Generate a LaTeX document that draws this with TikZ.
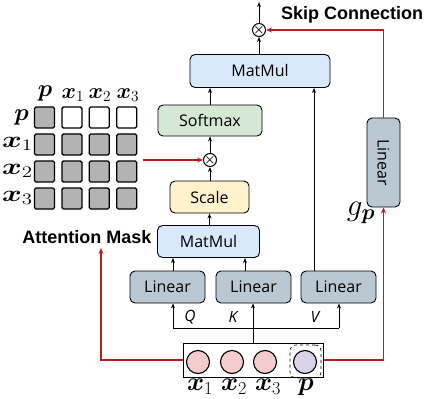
\RequirePackage{fix-cm}
\documentclass[tikz,border=0pt]{standalone}
\usepackage{amsmath,bm}
\usepackage{fontspec}
\newfontfamily\boxfont{Open Sans}
\newfontfamily\lblfont{Liberation Sans}
\usetikzlibrary{arrows.meta,calc}
\definecolor{mmblue}{HTML}{DAE8FC}
\definecolor{smgreen}{HTML}{D5E8D4}
\definecolor{scyellow}{HTML}{FFF2CC}
\definecolor{lingray}{HTML}{BAC8D3}
\definecolor{redline}{HTML}{B81C24}
\definecolor{cellgray}{HTML}{B3B3B3}
\definecolor{pinkc}{HTML}{F4CCCC}
\definecolor{purpc}{HTML}{D9D2E9}
\tikzset{
  opbox/.style={draw, line width=0.9pt, rounded corners=5pt, inner sep=0pt, font=\boxfont\fontsize{16}{18}\selectfont},
  arr/.style={-{Stealth[length=5pt,width=4pt]}, line width=1pt},
  redarr/.style={-{Stealth[length=6pt,width=5pt]}, line width=1.4pt, draw=redline},
  otim/.style={draw, circle, line width=1pt, minimum size=13pt, inner sep=0pt},
  cell/.style={draw, line width=1.3pt, rounded corners=1.5pt, minimum width=20pt, minimum height=21pt, inner sep=0pt},
  tok/.style={draw, circle, line width=1.1pt, minimum size=23pt, inner sep=0pt},
  mlbl/.style={font=\fontsize{22}{24}\selectfont, inner sep=0pt},
  plbl/.style={font=\fontsize{24}{26}\selectfont, inner sep=0pt},
  rlbl/.style={font=\fontsize{23}{25}\selectfont, inner sep=0pt, xscale=1.3, anchor=east},
  inlbl/.style={font=\fontsize{26}{28}\selectfont, inner sep=0pt},
  blbl/.style={font=\lblfont\bfseries\fontsize{18}{20}\selectfont, inner sep=0pt},
  qkv/.style={font=\boxfont\itshape\fontsize{15.5}{17}\selectfont, inner sep=0pt}
}
\begin{document}
\begin{tikzpicture}[x=1pt,y=-1pt]
\useasboundingbox (0,0) rectangle (430,398);
% boxes
\node[opbox, fill=mmblue, minimum width=140pt, minimum height=33pt] (mmTop) at (260,71) {MatMul};
\node[opbox, fill=smgreen, minimum width=104pt, minimum height=31pt] (soft) at (210,120.5) {Softmax};
\node[otim] (otMid) at (210,160) {};
\node[font=\fontsize{13}{14}\selectfont] at (otMid) {$\bm{\times}$};
\node[opbox, fill=scyellow, minimum width=79pt, minimum height=32pt] (scale) at (209.5,197) {Scale};
\node[opbox, fill=mmblue, minimum width=102pt, minimum height=32pt] (mmLow) at (208.5,241.5) {MatMul};
\node[opbox, fill=lingray, minimum width=75pt, minimum height=32pt] (linQ) at (167.5,287) {Linear};
\node[opbox, fill=lingray, minimum width=75pt, minimum height=32pt] (linK) at (253.5,287) {Linear};
\node[opbox, fill=lingray, minimum width=75pt, minimum height=32pt] (linV) at (338.5,287) {Linear};
\node[opbox, fill=lingray, minimum width=33pt, minimum height=89pt] (linR) at (383.5,162.5) {};
\node[font=\boxfont\fontsize{16}{18}\selectfont, rotate=-90] at (linR) {Linear};
\node[otim] (otTop) at (259,30) {};
\node[font=\fontsize{13}{14}\selectfont] at (otTop) {$\bm{\times}$};
\coordinate (topEnd) at (259,2);
\node[blbl, anchor=west] (skip) at (281,15) {Skip Connection};
\node[font=\fontsize{31}{33}\selectfont, inner sep=0pt] (gp) at (361,213) {$g_{\bm{p}}$};
% input box
\node[draw, line width=1pt, minimum width=140pt, minimum height=34pt, inner sep=0pt] (inp) at (253,360) {};
\node[tok, fill=pinkc] (t1) at (198,362) {};
\node[tok, fill=pinkc] (t2) at (232,362) {};
\node[tok, fill=pinkc] (t3) at (265,362) {};
\node[tok, fill=purpc] (tp) at (305,362) {};
\node[draw, dashed, line width=0.6pt, rounded corners=6pt, minimum width=31pt, minimum height=33pt, inner sep=0pt] (tpbox) at (305.5,361.5) {};
\node[inlbl] (l1) at (200,387) {$\bm{x}_1$};
\node[inlbl] (l2) at (234,387) {$\bm{x}_2$};
\node[inlbl] (l3) at (268,387) {$\bm{x}_3$};
\node[inlbl] (l4) at (306,387) {$\bm{p}$};
% Q K V labels
\node[qkv] (Q) at (190,317) {Q};
\node[qkv] (K) at (233,317) {K};
\node[qkv] (V) at (315,317) {V};
% mask grid
\foreach \j in {0,...,3}{
  \foreach \i in {0,...,3}{
    \pgfmathsetmacro{\cx}{44.5+27.4*\i}
    \pgfmathsetmacro{\cy}{117.5+27*\j}
    \ifnum\j=0 \ifnum\i>0
      \node[cell, fill=white] (c\j\i) at (\cx,\cy) {};
    \else
      \node[cell, fill=cellgray] (c\j\i) at (\cx,\cy) {};
    \fi\else
      \node[cell, fill=cellgray] (c\j\i) at (\cx,\cy) {};
    \fi
  }
}
\node[plbl] (hp) at (45,94) {$\bm{p}$};
\node[mlbl] (h1) at (73,95) {$\bm{x}_1$};
\node[mlbl] (h2) at (100,95) {$\bm{x}_2$};
\node[mlbl] (h3) at (128,95) {$\bm{x}_3$};
\node[plbl, anchor=east] (rp) at (29,118) {$\bm{p}$};
\node[rlbl] (r1) at (33,144) {$\bm{x}_1$};
\node[rlbl] (r2) at (33,171) {$\bm{x}_2$};
\node[rlbl] (r3) at (33,198) {$\bm{x}_3$};
\node[blbl] (am) at (87,237) {Attention Mask};
\coordinate (maskOut) at (143,160);
\coordinate (amIn) at (101,248);
% black arrows
\draw[arr] (otTop.north) -- (topEnd);
\draw[arr] (mmTop.north -| otTop) -- (otTop.south);
\draw[arr] (soft.north) -- (soft.north |- mmTop.south);
\draw[arr] (linV.north -| 314,0) -- (314,0 |- mmTop.south);
\draw[arr] (scale.north -| otMid) -- (otMid.south);
\draw[arr] (otMid.north) -- (soft.south -| otMid);
\draw[arr] (mmLow.north -| scale) -- (scale.south);
\draw[arr] ([xshift=5.5pt]linQ.north) -- ([xshift=5.5pt]linQ.north |- mmLow.south);
\draw[arr] ([xshift=-8.5pt]linK.north) -- ([xshift=-8.5pt]linK.north |- mmLow.south);
\draw[line width=1pt] (173,328) -- (339,328);
\draw[arr] (inp.north) -- (linK.south -| inp.north);
\draw[arr] (173,328) -- (linQ.south -| 173,0);
\draw[arr] (339,328) -- (linV.south -| 339,0);
% red connectors
\draw[redarr] (maskOut) -- (otMid.west);
\draw[redarr] (inp.west) -| (amIn);
\draw[redarr] (inp.east) -| (linR.south);
\draw[redarr] (linR.north) |- (otTop.east);
\end{tikzpicture}
\end{document}
